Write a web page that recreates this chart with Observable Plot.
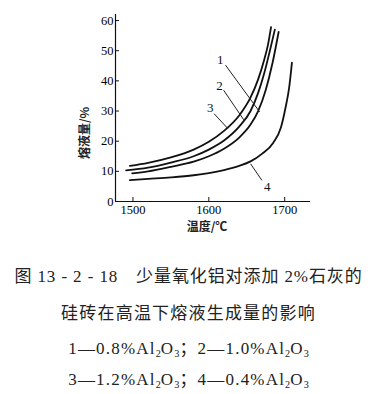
<!DOCTYPE html>
<html><head><meta charset="utf-8">
<script src="https://cdn.jsdelivr.net/npm/d3@7"></script>
<script src="https://cdn.jsdelivr.net/npm/@observablehq/plot@0.6"></script>
<style>
body{margin:0;background:#fff;width:377px;height:394px;overflow:hidden;}
#chart svg{display:block;}
#caption{font-family:"Liberation Serif","Times New Roman","Noto Sans CJK SC",serif;color:#222;font-size:17px;letter-spacing:1.2px;text-align:center;margin-top:14px;}
#caption div{white-space:pre;}
.lat{font-family:"Liberation Serif","Times New Roman",serif;}
sub{font-size:0.6em;vertical-align:-0.25em;letter-spacing:0;}
</style></head><body>
<div id="chart"></div>
<div id="caption">
<div style="height:36px;line-height:36px;letter-spacing:0.9px">图 <span class="lat">13 - 2 - 18</span>　少量氧化铝对添加 <span class="lat">2%</span>石灰的</div>
<div style="height:37px;line-height:37px">硅砖在高温下熔液生成量的影响</div>
<div style="height:34px;line-height:34px">1—0.8%Al<sub>2</sub>O<sub>3</sub>；2—1.0%Al<sub>2</sub>O<sub>3</sub></div>
<div style="height:28px;line-height:28px">3—1.2%Al<sub>2</sub>O<sub>3</sub>；4—0.4%Al<sub>2</sub>O<sub>3</sub></div>
</div>
<script>
// Curve 1 — 0.8% Al2O3
const temp1 = [1499,1520,1550,1580,1600,1620,1640,1655,1665,1675,1684,1692];
const liquid1 = [9.3,10.0,11.5,13.2,15.0,17.5,21.2,25.5,30.0,37.0,46.0,56.2];
// Curve 2 — 1.0% Al2O3
const temp2 = [1491,1520,1550,1580,1600,1620,1640,1655,1665,1673,1680,1687];
const liquid2 = [10.3,11.2,12.9,15.0,17.2,20.2,24.8,30.0,36.0,42.5,49.5,57.0];
// Curve 3 — 1.2% Al2O3
const temp3 = [1496,1520,1550,1580,1600,1620,1640,1655,1665,1673,1678,1682];
const liquid3 = [11.8,12.8,14.6,17.2,19.8,23.4,28.5,34.5,40.5,47.0,52.0,57.8];
// Curve 4 — 0.4% Al2O3
const temp4 = [1496,1520,1550,1580,1600,1620,1640,1655,1670,1685,1695,1701,1706,1709.5];
const liquid4 = [7.1,7.5,8.0,8.7,9.4,10.4,11.8,13.3,15.8,19.5,24.5,31.0,38.0,46.0];

const curveNames = ["1","2","3","4"];
const xTicks = [1500,1600,1700];
const yTicks = [0,10,20,30,40,50,60];
const xLabel = "温度/℃";
const yLabel = "熔液量/%";

// curve number labels and leader lines (data coordinates)
const labelT = [1615,1614,1602,1677];
const labelV = [46.9,38.5,31.2,4.8];
const leaderT1 = [1622,1619.5,1607,1655];
const leaderV1 = [45.2,36.9,29.1,12.5];
const leaderT2 = [1667,1646,1625,1670];
const leaderV2 = [29.7,27.1,24.2,7.0];

const temps = [temp1,temp2,temp3,temp4];
const liquids = [liquid1,liquid2,liquid3,liquid4];
const rows = [];
curveNames.forEach((n,i)=>temps[i].forEach((t,j)=>rows.push({curve:n,t,v:liquids[i][j]})));
const labels = curveNames.map((n,i)=>({n,t:labelT[i],v:labelV[i]}));
const leaders = curveNames.map((n,i)=>({t1:leaderT1[i],v1:leaderV1[i],t2:leaderT2[i],v2:leaderV2[i]}));

const serif = "Liberation Serif, Times New Roman, serif";
const chart = Plot.plot({
  width: 377, height: 245,
  marginLeft: 115, marginRight: 67, marginTop: 14, marginBottom: 44,
  x: {domain:[1477,1734]},
  y: {domain:[0,62]},
  style: {fontFamily: serif, fontSize:"12.5px", color:"#000", background:"#fff"},
  marks: [
    Plot.axisX({ticks:xTicks, tickSize:0, tickPadding:4, tickFormat:d=>String(d), label:null, fontSize:12.5, fontFamily:serif, fill:"#000"}),
    Plot.axisX({ticks:xTicks, tickSize:4, dy:-4, text:null, label:null, stroke:"#111"}),
    Plot.axisY({ticks:yTicks, tickSize:0, tickPadding:2, label:null, fontSize:12.5, fontFamily:serif, fill:"#000"}),
    Plot.axisY({ticks:yTicks, tickSize:4, dx:4, text:null, label:null, stroke:"#111"}),
    Plot.ruleY([0], {stroke:"#111", strokeWidth:1.2}),
    Plot.ruleX([1477], {stroke:"#111", strokeWidth:1.2}),
    Plot.line(rows, {x:"t", y:"v", z:"curve", stroke:"#111", strokeWidth:1.8, curve:"monotone-x"}),
    Plot.link(leaders, {x1:"t1", y1:"v1", x2:"t2", y2:"v2", stroke:"#222", strokeWidth:1}),
    Plot.text(labels, {x:"t", y:"v", text:"n", fontSize:13, fontFamily:serif, fill:"#111"}),
    Plot.text([xLabel], {frameAnchor:"bottom", dy:29, dx:-6, text:d=>d, fontSize:12, fontWeight:"bold", fontFamily:"Noto Sans CJK SC", fill:"#222"}),
    Plot.text([yLabel], {frameAnchor:"middle", dx:-127.5, dy:25, rotate:-90, text:d=>d, fontSize:12, fontWeight:"bold", fontFamily:"Noto Sans CJK SC", fill:"#222"})
  ]
});
document.getElementById("chart").appendChild(chart);
</script>
</body></html>
